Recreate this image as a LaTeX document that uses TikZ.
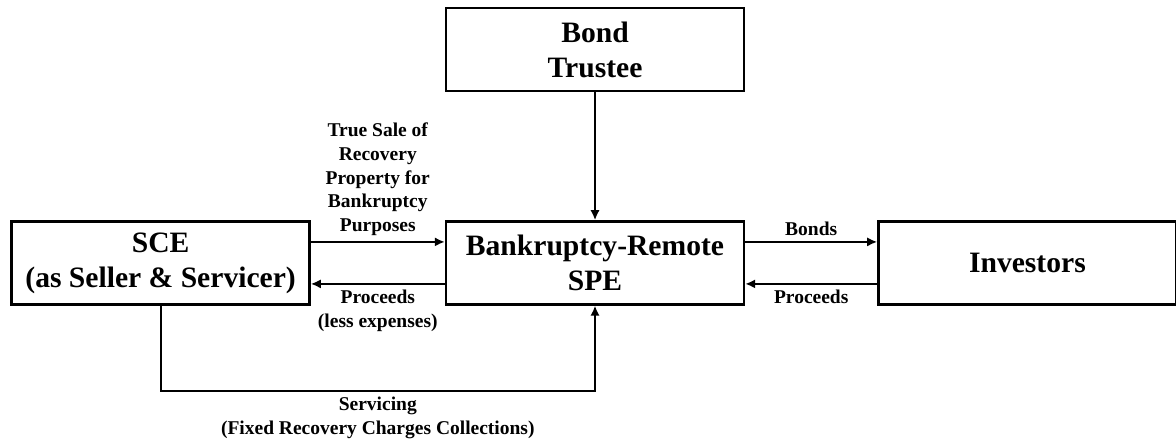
\documentclass[tikz,border=0pt]{standalone}
\usepackage{fontspec}
\setmainfont{Liberation Serif}
\usepackage{tikz}
\usetikzlibrary{arrows.meta,positioning,calc}

\begin{document}
\begin{tikzpicture}[
  >={Latex[length=5pt,width=4.6pt]},
  node distance=64pt and 67pt,
  every node/.style={font=\bfseries},
  party/.style={draw,line width=1.2pt,minimum width=149pt,minimum height=41.5pt,align=center,inner sep=2pt,font=\bfseries\fontsize{14.8}{17.5}\selectfont},
  flowlbl/.style={align=center,inner sep=2.5pt,font=\bfseries\fontsize{9.75}{11.9}\selectfont},
  flow/.style={->,line width=1.1pt}
]
\useasboundingbox (0,0) rectangle (588pt,-220pt);

\node[party] (trustee) at (297.5pt,-24.75pt) {Bond\\Trustee};
\node[party,below=of trustee] (spe) {Bankruptcy-Remote\\SPE};
\node[party,left=of spe] (sce) {SCE\\(as Seller \& Servicer)};
\node[party,right=66pt of spe] (inv) {Investors};
\coordinate (svc) at ($(sce.south)+(0,-42.5pt)$);

\draw[flow] (trustee) -- (spe);
\draw[flow] ([yshift=10.5pt]sce.east) -- node[flowlbl,above] {True Sale of\\Recovery\\Property for\\Bankruptcy\\Purposes} ([yshift=10.5pt]spe.west);
\draw[flow] ([yshift=-10.5pt]spe.west) -- node[flowlbl,below] {Proceeds\\(less expenses)} ([yshift=-10.5pt]sce.east);
\draw[flow] ([yshift=10.5pt]spe.east) -- node[flowlbl,above] {Bonds} ([yshift=10.5pt]inv.west);
\draw[flow] ([yshift=-10.5pt]inv.west) -- node[flowlbl,below] {Proceeds} ([yshift=-10.5pt]spe.east);
\draw[flow] (sce.south) -- (svc) -| node[flowlbl,pos=0.25,below] {Servicing\\(Fixed Recovery Charges Collections)} (spe.south);
\end{tikzpicture}
\end{document}
